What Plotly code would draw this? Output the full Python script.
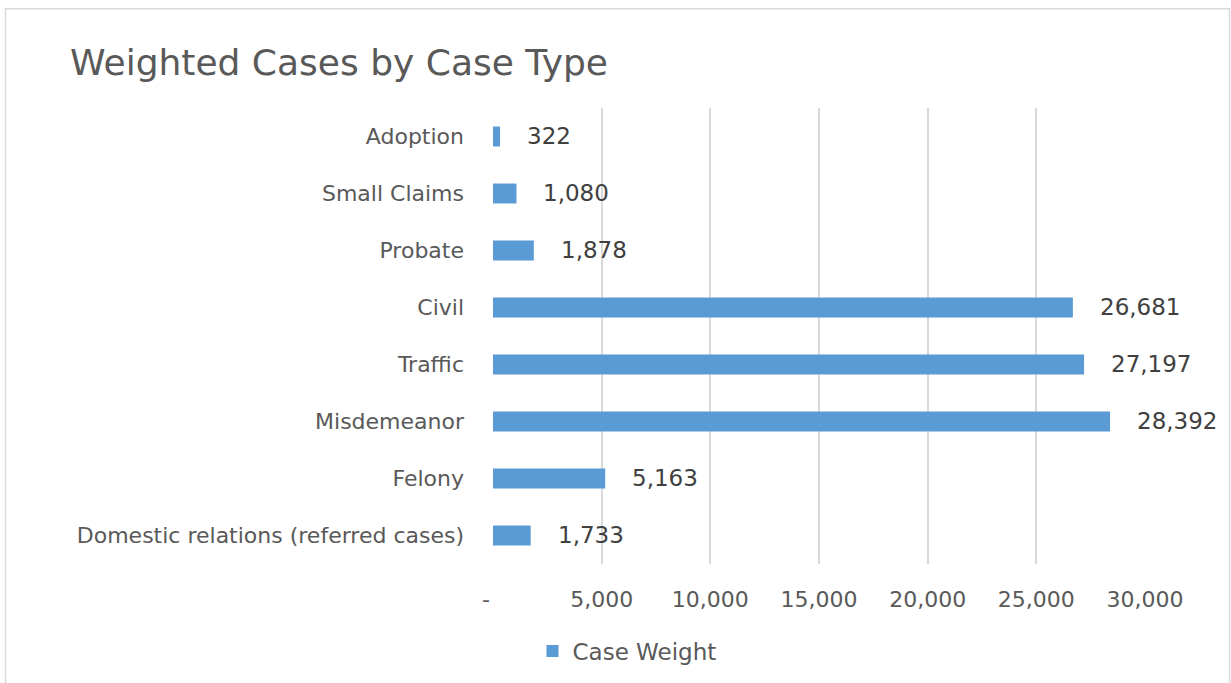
import plotly.graph_objects as go

# Case types, listed bottom-to-top as they appear on the category axis
case_types = [
    "Domestic relations (referred cases)",
    "Felony",
    "Misdemeanor",
    "Traffic",
    "Civil",
    "Probate",
    "Small Claims",
    "Adoption",
]
case_weight = [1733, 5163, 28392, 27197, 26681, 1878, 1080, 322]

x_tick_vals = [0, 5000, 10000, 15000, 20000, 25000, 30000]
x_tick_text = ["-\u00a0\u00a0", "5,000", "10,000", "15,000", "20,000", "25,000", "30,000"]

BAR_COLOR = "#5B9BD5"
GRID_COLOR = "#D9D9D9"
LABEL_COLOR = "#595959"
VALUE_COLOR = "#404040"
FONT = "DejaVu Sans, Open Sans, sans-serif"

W, H = 1231, 683
L, R, T, B = 493, 86, 108, 118
pw, ph = W - L - R, H - T - B

fig = go.Figure()
fig.add_trace(go.Bar(
    y=case_types,
    x=case_weight,
    orientation="h",
    name="Case Weight",
    marker=dict(color=BAR_COLOR, line=dict(width=0)),
    width=0.35,
    showlegend=True,
))

# value labels to the right of each bar
for cat, val in zip(case_types, case_weight):
    fig.add_annotation(
        x=val, y=cat, xref="x", yref="y",
        text=f"{val:,}",
        showarrow=False,
        xanchor="left", yanchor="middle",
        xshift=25, yshift=1,
        font=dict(family=FONT, size=23, color=VALUE_COLOR),
    )

# chart-area frame (left, top, right edges)
def px_to_paper_x(px):
    return (px - L) / pw

def py_to_paper_y(py):
    return (H - B - py) / ph

fig.add_shape(
    type="rect", xref="paper", yref="paper",
    x0=px_to_paper_x(5.5), x1=px_to_paper_x(1229.5),
    y0=py_to_paper_y(700), y1=py_to_paper_y(8.5),
    line=dict(color=GRID_COLOR, width=1.5), fillcolor="rgba(0,0,0,0)",
    layer="below",
)

fig.update_layout(
    width=W, height=H,
    margin=dict(l=L, r=R, t=T, b=B, pad=0),
    paper_bgcolor="white",
    plot_bgcolor="white",
    font=dict(family=FONT, color=LABEL_COLOR),
    title=dict(
        text="Weighted Cases by Case Type",
        x=70 / W, xanchor="left",
        y=1 - 62 / H, yanchor="middle",
        font=dict(family=FONT, size=36, color=LABEL_COLOR),
    ),
    xaxis=dict(
        range=[0, 30000],
        tickvals=x_tick_vals,
        ticktext=x_tick_text,
        showgrid=True, gridcolor=GRID_COLOR, gridwidth=2,
        zeroline=False, showline=False,
        ticks="", ticklabelstandoff=20,
        tickfont=dict(family=FONT, size=22, color=LABEL_COLOR),
        fixedrange=True,
    ),
    yaxis=dict(
        showgrid=False, zeroline=False, showline=False,
        ticks="", ticklabelstandoff=28,
        tickfont=dict(family=FONT, size=22, color=LABEL_COLOR),
        categoryorder="array", categoryarray=case_types,
        fixedrange=True,
    ),
    legend=dict(
        orientation="h",
        x=px_to_paper_x(627), xanchor="center",
        y=py_to_paper_y(651), yanchor="middle",
        font=dict(family=FONT, size=23, color=LABEL_COLOR),
        bgcolor="rgba(0,0,0,0)",
    ),
    bargap=0.65,
)

fig.write_html("out.html")
